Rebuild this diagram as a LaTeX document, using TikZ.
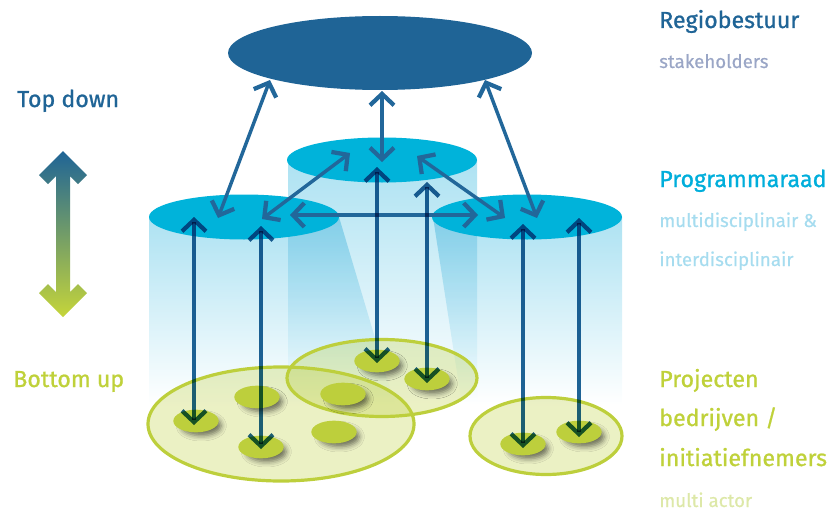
\documentclass[tikz,border=0pt]{standalone}
\usepackage{fontspec}
\setmainfont{Fira Sans}
\newfontfamily\headfont{Fira Sans}[FakeBold=1.0]
\newfontfamily\subfont{Fira Sans}[FakeBold=0.5]
\usetikzlibrary{arrows.meta,shapes.geometric,shadows.blur}
\definecolor{regioc}{HTML}{1F6496}
\definecolor{arrowc}{HTML}{22679A}
\definecolor{cylc}{HTML}{00B3DA}
\definecolor{bodyc}{HTML}{ADE2F2}
\definecolor{greenc}{HTML}{BDCF3C}
\definecolor{discc}{HTML}{BDCF3C}
\definecolor{stakec}{HTML}{9AA6C6}
\definecolor{progc}{HTML}{00AEDB}
\definecolor{multic}{HTML}{A6DCEF}
\definecolor{projc}{HTML}{BFD13A}
\definecolor{actorc}{HTML}{DDE8A8}
\definecolor{botc}{HTML}{C5D53A}
\tikzset{
  head/.style={font=\headfont\fontsize{17.4pt}{20pt}\selectfont, anchor=base west, inner sep=0pt},
  sub/.style={font=\subfont\fontsize{14pt}{16pt}\selectfont, anchor=base west, inner sep=0pt},
  cyltop/.style={ellipse, fill=cylc, minimum width=142.5pt, minimum height=33.75pt, inner sep=0pt},
  grp/.style={ellipse, fill=greenc, fill opacity=0.3, draw=greenc, draw opacity=1, line width=2.4pt, inner sep=0pt},
  disc/.style={ellipse, fill=discc, minimum width=34pt, minimum height=17pt, inner sep=0pt,
    blur shadow={shadow xshift=4.5pt, shadow yshift=-4pt, shadow scale=0.88, shadow blur radius=4.5pt, shadow opacity=55}},
  arr/.style={draw=arrowc, line width=2.6pt, line join=miter,
    {Straight Barb[length=8.5pt,width=18pt,line width=3.2pt]}-{Straight Barb[length=8.5pt,width=18pt,line width=3.2pt]}},
  varr/.style={draw=regioc, line width=2.6pt, line join=miter,
    {Straight Barb[length=8.5pt,width=18pt,line width=3.2pt]}-{Straight Barb[length=8.5pt,width=18pt,line width=3.2pt]}},
}
\begin{document}
\begin{tikzpicture}[x=0.75pt, y=-0.75pt]
\useasboundingbox (0,0) rectangle (834,510);

% cylinder bodies
\begin{scope}[blend mode=multiply]
  \shade[top color=bodyc, bottom color=white] (288,160) rectangle (477,402);
  \shade[top color=bodyc, bottom color=white] (149,217) -- (339,217) -- (395,405) -- (149,405) -- cycle;
  \shade[top color=bodyc, bottom color=white] (433,217) -- (622,217) -- (622,405) -- (462,405) -- cycle;
\end{scope}

% top ellipses
\node (regio) [ellipse, fill=regioc, minimum width=228pt, minimum height=55.5pt, inner sep=0pt] at (380,53) {};
\node (cmid) [cyltop] at (382,160) {};
\node (cleft) [cyltop] at (244,217) {};
\node (cright) [cyltop] at (527,217) {};

% project groups
\node (gbig) [grp, minimum width=199.5pt, minimum height=85.5pt] at (281,424) {};
\node (gmid) [grp, minimum width=142.5pt, minimum height=57.75pt] at (382,378) {};
\node (gright) [grp, minimum width=114pt, minimum height=57.75pt] at (546,436) {};

% discs
\node (d1) [disc] at (196,421) {};
\node (d2) [disc] at (257,397) {};
\node (d3) [disc] at (261,447) {};
\node (d4) [disc] at (334,432) {};
\node (d5) [disc] at (343,394) {};
\node (d6) [disc] at (377,361) {};
\node (d7) [disc] at (427,379) {};
\node (d8) [disc] at (523,444) {};
\node (d9) [disc] at (579,432) {};

% arrow end points
\coordinate (a1t) at (270,80);  \coordinate (a1b) at (218,218);
\coordinate (a2t) at (382,91);  \coordinate (a2b) at (382,162);
\coordinate (a3t) at (485,80);  \coordinate (a3b) at (537,218);
\coordinate (a4l) at (262,219); \coordinate (a4r) at (350,153);
\coordinate (a5l) at (417,156); \coordinate (a5r) at (505,218);
\coordinate (a6l) at (290,215); \coordinate (a6r) at (478,215);

\draw[arr] (a1t) -- (a1b);
\draw[arr] (a2t) -- (a2b);
\draw[arr] (a3t) -- (a3b);
\draw[arr] (a4l) -- (a4r);
\draw[arr] (a5l) -- (a5r);
\draw[arr] (a6l) -- (a6r);

% vertical arrows
\coordinate (v1t) at (194,217); \coordinate (v1b) at (194,425);
\coordinate (v2t) at (261,226); \coordinate (v2b) at (261,449);
\coordinate (v3t) at (377,167); \coordinate (v3b) at (377,363);
\coordinate (v4t) at (427,182); \coordinate (v4b) at (427,383);
\coordinate (v5t) at (523,224); \coordinate (v5b) at (523,448);
\coordinate (v6t) at (579,218); \coordinate (v6b) at (579,437);
\begin{scope}[blend mode=multiply]
  \draw[varr] (v1t) -- (v1b);
  \draw[varr] (v2t) -- (v2b);
  \draw[varr] (v3t) -- (v3b);
  \draw[varr] (v4t) -- (v4b);
  \draw[varr] (v5t) -- (v5b);
  \draw[varr] (v6t) -- (v6b);
\end{scope}

% left gradient arrow
\shade[top color=regioc, bottom color=botc]
  (63,151) -- (87,175) -- (78,184) -- (70,176) -- (70,292) -- (78,284) -- (87,293)
  -- (63,317) -- (39,293) -- (48,284) -- (56,292) -- (56,176) -- (48,184) -- (39,175) -- cycle;

% left labels
\node (td) [head, text=regioc] at (17,107) {Top down};
\node (bu) [head, text=projc] at (13,387) {Bottom up};

% right labels
\node (l1) [head, text=regioc] at (659,28) {Regiobestuur};
\node (l2) [sub, text=stakec] at (659,68) {stakeholders};
\node (l3) [head, text=progc] at (659,187) {Programmaraad};
\node (l4) [sub, text=multic] at (659,227) {multidisciplinair \&};
\node (l5) [sub, text=multic] at (659,266) {interdisciplinair};
\node (l6) [head, text=projc] at (659,387) {Projecten};
\node (l7) [head, text=projc] at (659,426) {bedrijven /};
\node (l8) [head, text=projc] at (659,466) {initiatiefnemers};
\node (l9) [sub, text=actorc] at (659,507) {multi actor};
\end{tikzpicture}
\end{document}
